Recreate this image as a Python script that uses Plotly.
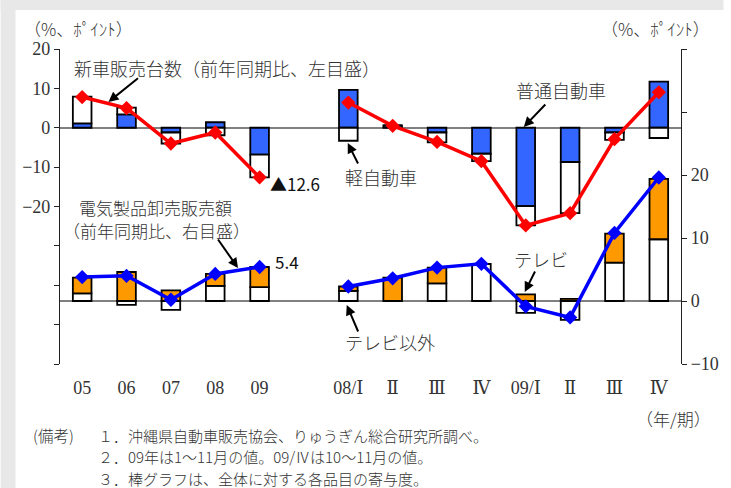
import plotly.graph_objects as go

# ---- data -------------------------------------------------------------
annual_labels = ["05", "06", "07", "08", "09"]
quarter_labels = ["08/Ⅰ", "Ⅱ", "Ⅲ", "Ⅳ", "09/Ⅰ", "Ⅱ", "Ⅲ", "Ⅳ"]

# new car sales (y/y %, left scale) and contributions (points)
car_total = [7.8, 5.0, -4.0, -1.2, -12.6, 6.4, 0.5, -3.6, -8.5, -24.8, -21.7, -2.9, 9.0]
car_regular = [1.1, 3.4, -1.2, 1.4, -6.8, 9.6, 0.6, -1.2, -6.6, -19.9, -8.7, -1.2, 11.7]
car_light = [6.8, 1.7, -2.8, -1.9, -5.8, -3.3, 0.0, -2.5, -1.9, -4.9, -13.0, -1.9, -2.6]

# electrical goods wholesale sales (y/y %, right scale) and contributions
elec_total = [3.8, 4.0, 0.2, 4.3, 5.4, 2.3, 3.6, 5.3, 5.9, -0.85, -2.6, 10.8, 19.6]
elec_other = [1.2, -0.6, -1.4, 2.4, 2.2, 1.6, 0.0, 2.8, 5.9, -1.9, -3.0, 6.1, 9.8]
elec_tv = [2.5, 4.6, 1.7, 1.9, 3.2, 0.7, 3.7, 2.5, 0.0, 1.05, 0.35, 4.6, 9.6]

left_range = [-60, 20]
right_range = [-10, 40]

notes = [
    "１．沖縄県自動車販売協会、りゅうぎん総合研究所調べ。",
    "２．09年は1～11月の値。09/Ⅳは10～11月の値。",
    "３．棒グラフは、全体に対する各品目の寄与度。",
]

# ---- positions: annual block, one empty slot, quarterly block ----------
x_pos = list(range(len(annual_labels))) + [
    len(annual_labels) + 1 + i for i in range(len(quarter_labels))
]
tick_text = annual_labels + quarter_labels
n_slots = x_pos[-1] + 1
boundaries = [i + 0.5 for i in range(n_slots - 1)]

# ---- pixel helpers for layout placement --------------------------------
W, H = 731, 488
PL, PR, PT, PB = 60, 688, 49, 364


def px(xp):
    return (xp - PL) / (PR - PL)


def py(yp):
    return (PB - yp) / (PB - PT)


SERIF = "Times New Roman, Liberation Serif, DejaVu Serif, serif"
JP = "Noto Sans CJK JP"
TXT = "#333333"
BAR_W = 0.42
OUTLINE = dict(color="black", width=1.8)

fig = go.Figure()

# car bars (left axis)
fig.add_trace(go.Bar(x=x_pos, y=car_regular, width=BAR_W, marker=dict(color="#3366FF", line=OUTLINE),
                     name="普通自動車", yaxis="y"))
fig.add_trace(go.Bar(x=x_pos, y=car_light, width=BAR_W, marker=dict(color="white", line=OUTLINE),
                     name="軽自動車", yaxis="y"))
# electrical bars (right axis)
fig.add_trace(go.Bar(x=x_pos, y=elec_other, width=BAR_W, marker=dict(color="white", line=OUTLINE),
                     name="テレビ以外", yaxis="y2"))
fig.add_trace(go.Bar(x=x_pos, y=elec_tv, width=BAR_W, marker=dict(color="#FF9900", line=OUTLINE),
                     name="テレビ", yaxis="y2"))

# totals as lines: annual and quarterly segments drawn separately
na = len(annual_labels)
for xs, ys in ((x_pos[:na], car_total[:na]), (x_pos[na:], car_total[na:])):
    fig.add_trace(go.Scatter(x=xs, y=ys, mode="lines+markers", yaxis="y",
                             line=dict(color="#FF0000", width=3.5),
                             marker=dict(symbol="diamond", size=11, color="#FF0000")))
for xs, ys in ((x_pos[:na], elec_total[:na]), (x_pos[na:], elec_total[na:])):
    fig.add_trace(go.Scatter(x=xs, y=ys, mode="lines+markers", yaxis="y2",
                             line=dict(color="#0000FF", width=3.5),
                             marker=dict(symbol="diamond", size=11, color="#0000FF")))

left_ticks = list(range(left_range[0], left_range[1] + 1, 10))
right_ticks = list(range(right_range[0], right_range[1] + 1, 10))


def lab(v, lo, hi):
    if v < lo or v > hi:
        return ""
    return ("−" + str(-v)) if v < 0 else str(v)


zero_pos = (0 - left_range[0]) / (left_range[1] - left_range[0])
tick_font = dict(family=SERIF, size=18, color=TXT)

fig.update_layout(
    width=W, height=H,
    margin=dict(l=PL, r=W - PR, t=PT, b=H - PB, pad=0),
    paper_bgcolor="white", plot_bgcolor="white",
    barmode="relative", showlegend=False,
    font=dict(family=JP, size=16, color=TXT),
    xaxis=dict(range=[-0.5, n_slots - 0.5], tickvals=x_pos, ticktext=tick_text,
               showgrid=False, zeroline=False, showline=False, ticks="",
               ticklabelstandoff=11, tickfont=tick_font),
    xaxis2=dict(range=[-0.5, n_slots - 0.5], overlaying="x", anchor="free", position=zero_pos,
                tickvals=boundaries, ticks="inside", ticklen=5, tickcolor="#555555",
                showticklabels=False, showgrid=False, zeroline=False, showline=False),
    yaxis=dict(range=left_range, tickvals=left_ticks,
               ticktext=[lab(v, -20, 20) for v in left_ticks],
               showgrid=False, zeroline=True, zerolinecolor="#808080", zerolinewidth=1.5,
               showline=True, linecolor="#222222", linewidth=1.2,
               ticks="outside", ticklen=5, tickcolor="#222222", tickfont=tick_font),
    yaxis2=dict(range=right_range, tickvals=right_ticks,
                ticktext=[lab(v, -10, 20) for v in right_ticks],
                overlaying="y", side="right", anchor="x",
                showgrid=False, zeroline=True, zerolinecolor="#808080", zerolinewidth=1.5,
                showline=True, linecolor="#222222", linewidth=1.2,
                ticks="outside", ticklen=5, tickcolor="#222222", tickfont=tick_font),
)

# grey frame strips on the left and top of the page
fig.add_shape(type="rect", xref="paper", yref="paper", x0=px(0), x1=px(15), y0=py(H), y1=py(0),
              fillcolor="#e8e8e8", line_width=0, layer="below")
fig.add_shape(type="rect", xref="paper", yref="paper", x0=px(0), x1=px(W), y0=py(10), y1=py(0),
              fillcolor="#e8e8e8", line_width=0, layer="below")


def text(t, xp, yp, size=18, family=JP, xanchor="center", color=TXT, weight=300):
    fig.add_annotation(text=t, x=px(xp), y=py(yp), xref="paper", yref="paper",
                       showarrow=False, xanchor=xanchor, yanchor="middle", borderpad=0,
                       font=dict(family=family, size=size, color=color, weight=weight))


def arrow(tail, head):
    fig.add_annotation(text="", x=px(head[0]), y=py(head[1]), xref="paper", yref="paper",
                       ax=tail[0] - head[0], ay=tail[1] - head[1], showarrow=True,
                       arrowhead=2, arrowsize=1, arrowwidth=2, arrowcolor="black", standoff=0)


# units
text("（%、ﾎﾟｲﾝﾄ）", 79, 28, size=17)
text("（%、ﾎﾟｲﾝﾄ）", 662, 28, size=17)

# series labels
text("新車販売台数（前年同期比、左目盛）", 229, 68)
arrow((140, 77), (109, 102))
text("▲" + f"{abs(car_total[4]):.1f}", 298, 183, size=17, color="#111111", weight=400)
text("軽自動車", 385, 177)
arrow((362, 165), (351, 143))
text("普通自動車", 567, 90)
arrow((552, 103), (529, 127))

text("電気製品卸売販売額", 157, 207, size=17)
text("（前年同期比、右目盛）", 158, 230, size=17)
arrow((219, 238), (240, 268))
text(f"{elec_total[4]:.1f}", 290, 261, size=17, color="#111111", weight=400)
text("テレビ以外", 394, 342)
arrow((362, 333), (350, 305))
text("テレビ", 546, 259)
arrow((541, 270), (530, 292))

# unit of the horizontal axis and notes
text("（年/期）", 680, 418, size=17)
text("(備考)", 32, 435, size=15.5, xanchor="left")
for i, line in enumerate(notes):
    text(line, 97, 435 + 21.5 * i, size=15, xanchor="left")

fig.write_html("out.html")
